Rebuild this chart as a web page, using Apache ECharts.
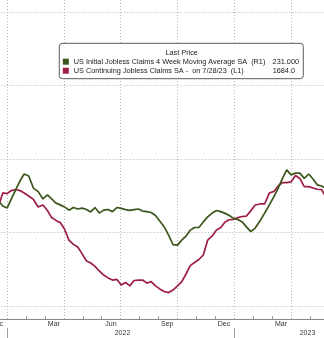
<!DOCTYPE html>
<html>
<head>
<meta charset="utf-8">
<script src="https://cdn.jsdelivr.net/npm/echarts@6.0.0/dist/echarts.min.js"></script>
<style>
html,body{margin:0;padding:0;background:#fff;}
#chart{width:324px;height:338px;}
</style>
</head>
<body>
<div id="chart"></div>
<script>
// ---- data ----
const weekDates = [
'2021-12-18','2021-12-25','2022-01-01','2022-01-08','2022-01-15','2022-01-22','2022-01-29',
'2022-02-05','2022-02-12','2022-02-19','2022-02-26',
'2022-03-05','2022-03-12','2022-03-19','2022-03-26',
'2022-04-02','2022-04-09','2022-04-16','2022-04-23','2022-04-30',
'2022-05-07','2022-05-14','2022-05-21','2022-05-28',
'2022-06-04','2022-06-11','2022-06-18','2022-06-25',
'2022-07-02','2022-07-09','2022-07-16','2022-07-23','2022-07-30',
'2022-08-06','2022-08-13','2022-08-20','2022-08-27',
'2022-09-03','2022-09-10','2022-09-17','2022-09-24',
'2022-10-01','2022-10-08','2022-10-15','2022-10-22','2022-10-29',
'2022-11-05','2022-11-12','2022-11-19','2022-11-26',
'2022-12-03','2022-12-10','2022-12-17','2022-12-24','2022-12-31',
'2023-01-07','2023-01-14','2023-01-21','2023-01-28',
'2023-02-04','2023-02-11','2023-02-18','2023-02-25',
'2023-03-04','2023-03-11','2023-03-18','2023-03-25',
'2023-04-01','2023-04-08','2023-04-15','2023-04-22','2023-04-29',
'2023-05-06','2023-05-13','2023-05-20','2023-05-27'];

const initialClaims4wk = [
235.7, 234.0, 233.3, 236.4, 239.5, 242.5, 244.9, 244.2, 240.1, 238.9,
236.4, 237.8, 236.4, 235.0, 234.4, 233.7, 232.6, 233.5, 233.0, 233.3,
232.8, 232.0, 233.5, 231.6, 232.6, 232.8, 232.1, 233.5, 233.2, 232.8,
232.5, 232.8, 233.0, 232.3, 232.1, 231.8, 230.8, 228.9, 226.9, 224.1,
220.9, 220.7, 222.4, 223.8, 225.8, 226.7, 226.7, 228.6, 230.3, 231.6,
232.5, 232.1, 231.5, 230.8, 229.8, 229.4, 228.6, 226.9, 225.3, 226.5,
228.9, 231.6, 234.4, 237.2, 240.1, 243.4, 246.3, 244.6, 245.2, 245.2,
243.4, 244.9, 243.2, 241.2, 240.8, 240.1];

const continuingClaims = [
1713, 1773, 1770, 1784, 1789, 1784, 1773, 1759, 1743, 1708,
1717, 1692, 1659, 1646, 1636, 1606, 1555, 1535, 1523, 1491,
1458, 1449, 1433, 1412, 1393, 1380, 1370, 1373, 1347, 1359,
1343, 1368, 1370, 1370, 1356, 1363, 1343, 1329, 1317, 1312,
1324, 1343, 1362, 1398, 1437, 1451, 1465, 1486, 1555, 1574,
1602, 1613, 1639, 1649, 1651, 1659, 1664, 1666, 1690, 1717,
1722, 1722, 1773, 1780, 1805, 1821, 1821, 1824, 1854, 1840,
1802, 1802, 1796, 1790, 1789, 1754];

const seriesNames = ['US Initial Jobless Claims 4 Week Moving Average SA', 'US Continuing Jobless Claims SA'];
const legendNotes = ['', ' -  on 7/28/23'];
const axisTags = ['(R1)', '(L1)'];
const lastValues = ['231.000', '1684.0'];
const legendTitle = 'Last Price';
const monthNames = ['Jan','Feb','Mar','Apr','May','Jun','Jul','Aug','Sep','Oct','Nov','Dec'];
const yearLabels = ['2022', '2023'];

// ---- helpers ----
function monthCoord(s) {
  const p = s.split('-').map(Number);
  const dim = new Date(Date.UTC(p[0], p[1], 0)).getUTCDate();
  return (p[0] - 2022) * 12 + (p[1] - 1) + (p[2] - 1) / dim;
}
const xs = weekDates.map(monthCoord);
const greenData = xs.map((x, i) => [x, initialClaims4wk[i]]);
const redData = xs.map((x, i) => [x, continuingClaims[i]]);

const GREEN = '#3b561a';
const RED = '#9e1d44';
const FONT = 'Liberation Sans';
const TXT = '#1a1a1a';
const LF = 7.3;
const gridL = -49.7, gridR = -23.8;

const chart = echarts.init(document.getElementById('chart'), null, {renderer: 'canvas'});
chart.setOption({
  animation: false,
  backgroundColor: '#fff',
  grid: [
    {left: gridL, right: gridR, top: -61.5, bottom: 32, outerBoundsMode: 'none', containLabel: false},
    {left: gridL, right: gridR, top: 0, bottom: 19, outerBoundsMode: 'none', containLabel: false},
    {left: -220.06, right: -137.42, top: 0, bottom: 10, outerBoundsMode: 'none', containLabel: false},
    {left: 30, right: -76, top: 0, bottom: 9, outerBoundsMode: 'none', containLabel: false}
  ],
  xAxis: [
    {gridIndex: 0, type: 'value', min: -3, max: 18, show: false},
    {gridIndex: 1, type: 'value', min: -3, max: 18, interval: 3,
      axisLine: {show: true, lineStyle: {color: '#8a8a8a', width: 1}},
      axisTick: {show: false, inside: true},
      minorTick: {show: true, splitNumber: 3, length: 3, lineStyle: {color: '#9a9a9a', width: 1}},
      splitLine: {show: true, lineStyle: {color: '#b4b4b4', width: 1, type: [1, 2]}},
      axisLabel: {show: true, fontSize: 7, fontFamily: FONT, color: '#333', margin: 2,
        align: 'right', padding: [0, 4, 0, 0], hideOverlap: false,
        showMinLabel: true, showMaxLabel: true,
        formatter: v => monthNames[((Math.round(v) - 1) % 12 + 12) % 12]}
    },
    {gridIndex: 2, type: 'value', min: -12, max: 24, interval: 12,
      axisLine: {show: false},
      axisTick: {show: true, inside: false, length: 10, lineStyle: {color: '#a0a0a0', width: 1}},
      axisLabel: {show: false}, splitLine: {show: false}
    },
    {gridIndex: 3, type: 'category', data: yearLabels, boundaryGap: true,
      axisLine: {show: false}, axisTick: {show: false}, splitLine: {show: false},
      axisLabel: {show: true, fontSize: 7, fontFamily: FONT, color: '#333', margin: 1}
    }
  ],
  yAxis: [
    {gridIndex: 0, type: 'value', min: 1250, max: 2950, show: false},
    {gridIndex: 0, type: 'value', position: 'right', min: 200, max: 325, interval: 25,
      axisLine: {show: false}, axisTick: {show: false}, axisLabel: {show: false},
      splitLine: {show: true, lineStyle: {color: '#b4b4b4', width: 1, type: [1, 2]}}
    },
    {gridIndex: 1, type: 'value', min: 0, max: 1, show: false},
    {gridIndex: 2, type: 'value', min: 0, max: 1, show: false},
    {gridIndex: 3, type: 'value', min: 0, max: 1, show: false}
  ],
  legend: {
    show: true,
    orient: 'vertical',
    left: 59.3, top: 43.3,
    padding: [13.9, 4.3, 3.5, 3.5],
    itemGap: 0,
    itemWidth: 6, itemHeight: 6,
    icon: 'rect',
    selectedMode: false,
    backgroundColor: '#fff',
    borderColor: '#5a5a5a',
    borderWidth: 1,
    borderRadius: 3,
    data: seriesNames,
    textStyle: {
      fontSize: LF, fontFamily: FONT, color: TXT, lineHeight: 9,
      rich: {
        n: {width: 197, fontSize: LF, fontFamily: FONT, color: TXT, lineHeight: 9},
        v1: {width: 28.2, align: 'right', fontSize: LF, fontFamily: FONT, color: TXT, lineHeight: 9},
        v2: {width: 24.2, align: 'right', fontSize: LF, fontFamily: FONT, color: TXT, lineHeight: 9}
      }
    },
    formatter: function (name) {
      const i = seriesNames.indexOf(name);
      return '{n|' + name + legendNotes[i] + '  ' + axisTags[i] + '}{v' + (i + 1) + '|' + lastValues[i] + '}';
    }
  },
  graphic: [
    {type: 'text', x: 181.7, y: 52.7, z: 100,
      style: {text: legendTitle, align: 'center', verticalAlign: 'middle',
        font: LF + 'px "' + FONT + '"', fill: TXT}}
  ],
  series: [
    {name: seriesNames[0], type: 'line', xAxisIndex: 0, yAxisIndex: 1,
      data: greenData, showSymbol: false, z: 3,
      itemStyle: {color: GREEN}, lineStyle: {color: GREEN, width: 1.7}},
    {name: seriesNames[1], type: 'line', xAxisIndex: 0, yAxisIndex: 0,
      data: redData, showSymbol: false, z: 2,
      itemStyle: {color: RED}, lineStyle: {color: RED, width: 1.7}}
  ]
});
</script>
</body>
</html>
